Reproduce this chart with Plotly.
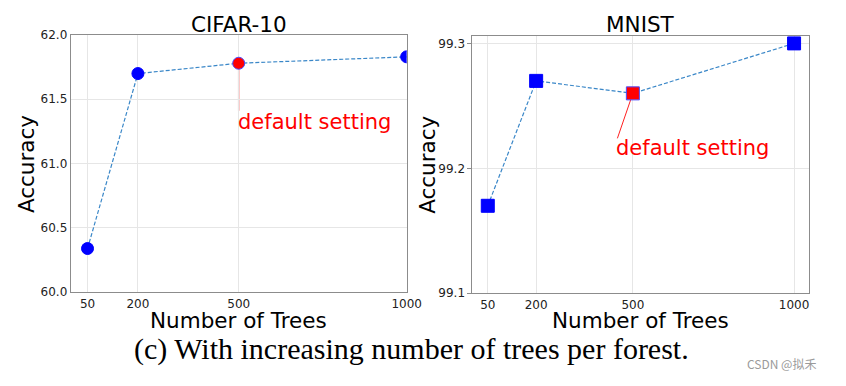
import plotly.graph_objects as go

# ---------------- data ----------------
trees = [50, 200, 500, 1000]
tree_tick_labels = ["50", "200", "500", "1000"]
cifar_acc = [60.34, 61.70, 61.78, 61.83]
mnist_acc = [99.17, 99.27, 99.26, 99.30]
default_trees = 500
cifar_yticks = [60.0, 60.5, 61.0, 61.5, 62.0]
cifar_ytick_labels = ["60.0", "60.5", "61.0", "61.5", "62.0"]
mnist_yticks = [99.1, 99.2, 99.3]
mnist_ytick_labels = ["99.1", "99.2", "99.3"]
titles = ["CIFAR-10", "MNIST"]
annot_text = "default setting"
cifar_line_end = (500, 61.41)
mnist_line_end = (452, 99.224)
cifar_text_pos = (500, 61.327)
mnist_text_pos = (452, 99.216)
caption = "(c) With increasing number of trees per forest."
watermark = "CSDN @拟禾"

W, H = 846, 386
FONT = "DejaVu Sans"
BLUE = "#0000FF"
LINE = "#3a87c8"


def px(x):
    return x / W


def py(y):
    return 1 - y / H


fig = go.Figure()


def add_series(xs, ys, xa, ya, symbol, size):
    colors = ["#FF0000" if t == default_trees else BLUE for t in xs]
    edges = ["#4b4bff" if t == default_trees else BLUE for t in xs]
    fig.add_trace(go.Scatter(
        x=xs, y=ys, xaxis=xa, yaxis=ya, mode="lines+markers",
        line=dict(color=LINE, width=1.2, dash="4px,2px"),
        marker=dict(symbol=symbol, size=size, color=colors,
                    line=dict(color=edges, width=1)),
        showlegend=False, cliponaxis=True, hoverinfo="skip"))


add_series(trees, cifar_acc, "x", "y", "circle", 12)
add_series(trees, mnist_acc, "x2", "y2", "square", 13)

axis_common = dict(showgrid=True, gridcolor="#e6e6e6", gridwidth=1,
                   zeroline=False, showline=True, linecolor="#8c8c8c",
                   linewidth=1, mirror=True, fixedrange=True,
                   tickfont=dict(family=FONT, size=12, color="#222222"))

y_top_l, y_bot_l = 29, 296
y_top_r, y_bot_r = 30, 297

fig.update_layout(
    width=W, height=H, autosize=False, margin=dict(l=0, r=0, t=0, b=0),
    paper_bgcolor="white", plot_bgcolor="white", dragmode=False,
    xaxis=dict(domain=[px(72), px(414)], range=[0, 1000], anchor="y",
               tickvals=trees, ticktext=tree_tick_labels, ticks="", **axis_common),
    yaxis=dict(domain=[py(y_bot_l), py(y_top_l)], range=[60.0, 62.0], anchor="x",
               tickvals=cifar_yticks, ticktext=cifar_ytick_labels, ticks="", **axis_common),
    xaxis2=dict(domain=[px(481), px(824)], range=[2.5, 1047.5], anchor="y2",
                tickvals=trees, ticktext=tree_tick_labels, ticks="", **axis_common),
    yaxis2=dict(domain=[py(y_bot_r), py(y_top_r)], range=[99.1, 99.306], anchor="x2",
                tickvals=mnist_yticks, ticktext=mnist_ytick_labels, ticks="outside",
                ticklen=4, tickcolor="#8c8c8c", **axis_common),
)

# white frame spanning the whole page (invisible; keeps the page extent fixed)
fig.add_shape(type="rect", xref="paper", yref="paper", x0=0, y0=0, x1=1, y1=1,
              line=dict(color="white", width=1), fillcolor="rgba(0,0,0,0)",
              layer="below")

# red pointer lines to the default setting
fig.add_shape(type="line", xref="x", yref="y",
              x0=default_trees, y0=cifar_acc[trees.index(default_trees)],
              x1=cifar_line_end[0], y1=cifar_line_end[1],
              line=dict(color="rgba(240,100,100,0.75)", width=1.5), layer="below")
fig.add_shape(type="line", xref="x2", yref="y2",
              x0=default_trees, y0=mnist_acc[trees.index(default_trees)],
              x1=mnist_line_end[0], y1=mnist_line_end[1],
              line=dict(color="#ff2020", width=1), layer="below")

ann = []
ann.append(dict(x=cifar_text_pos[0], y=cifar_text_pos[1], xref="x", yref="y",
                text=annot_text, showarrow=False, xanchor="left", yanchor="middle",
                xshift=-2, borderpad=0, font=dict(family=FONT, size=21, color="#FF0000")))
ann.append(dict(x=mnist_text_pos[0], y=mnist_text_pos[1], xref="x2", yref="y2",
                text=annot_text, showarrow=False, xanchor="left", yanchor="middle",
                xshift=-2, borderpad=0, font=dict(family=FONT, size=21, color="#FF0000")))
# titles
for xc, t in [(243, titles[0]), (652, titles[1])]:
    ann.append(dict(x=px(xc), y=py(18.5), xref="paper", yref="paper", text=t,
                    showarrow=False, xanchor="center", yanchor="middle", borderpad=0,
                    font=dict(family=FONT, size=21.5, color="black")))
# axis titles
for xc, yc in [(243, 325), (652, 325.5)]:
    ann.append(dict(x=px(xc), y=py(yc), xref="paper", yref="paper", text="Number of Trees",
                    showarrow=False, xanchor="center", yanchor="middle", borderpad=0,
                    font=dict(family=FONT, size=21.5, color="black")))
for xc, yc in [(26.5, 163), (434.5, 164)]:
    ann.append(dict(x=px(xc), y=py(yc), xref="paper", yref="paper", text="Accuracy",
                    showarrow=False, xanchor="center", yanchor="middle", textangle=-90,
                    borderpad=0, font=dict(family=FONT, size=21.5, color="black")))
# caption
ann.append(dict(x=px(419), y=py(355), xref="paper", yref="paper", text=caption,
                showarrow=False, xanchor="center", yanchor="middle", borderpad=0,
                font=dict(family="Liberation Serif", size=30, color="black")))
# watermark
ann.append(dict(x=px(796), y=py(370), xref="paper", yref="paper", text=watermark,
                showarrow=False, xanchor="center", yanchor="middle", borderpad=0,
                font=dict(family="Noto Sans CJK SC", size=12, color="#9a9a9a")))
fig.update_layout(annotations=ann)

css_js = ("var s='margin:0;padding:0;overflow:hidden;width:846px;height:386px;';"
          "document.documentElement.style.cssText=s;"
          "document.body.style.cssText=s;")
fig.write_html("out.html",
               config={"displayModeBar": False, "responsive": False,
                       "staticPlot": True},
               post_script=css_js)
